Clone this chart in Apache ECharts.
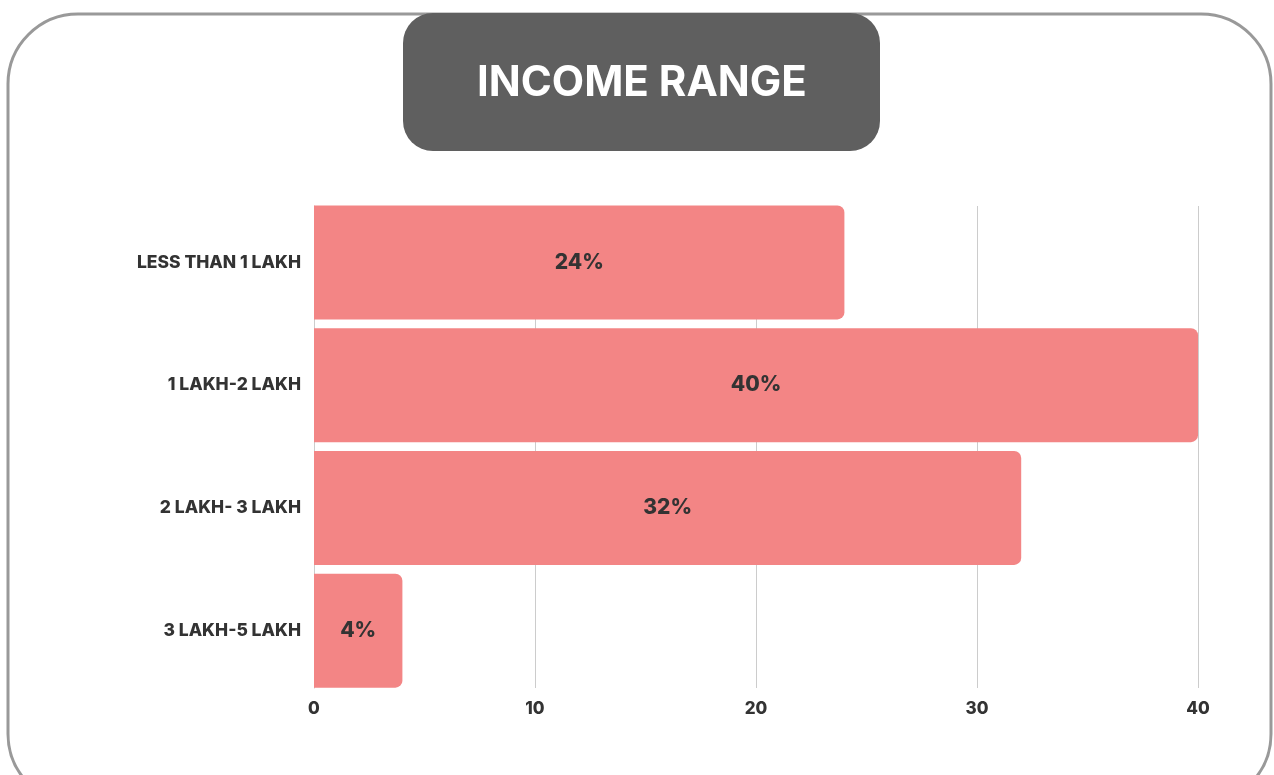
<!DOCTYPE html>
<html>
<head>
<meta charset="utf-8">
<title>Income Range</title>
<script src="https://cdn.jsdelivr.net/npm/echarts@6/dist/echarts.min.js"></script>
<style>
  html, body { margin: 0; padding: 0; background: #fff; }
  #main { width: 1274px; height: 775px; }
</style>
</head>
<body>
<div id="main"></div>
<script>
// data
var categories = ['LESS THAN 1 LAKH', '1 LAKH-2 LAKH', '2 LAKH- 3 LAKH', '3 LAKH-5 LAKH'];
var values = [24, 40, 32, 4];
var xTicks = [0, 10, 20, 30, 40];

var font = 'Inter';
var chart = echarts.init(document.getElementById('main'));

var option = {
  backgroundColor: '#fff',
  animation: false,
  title: {
    text: 'INCOME RANGE',
    left: 472,
    top: 57,
    textStyle: {
      color: '#fff',
      fontSize: 42,
      fontWeight: 'bold',
      fontFamily: font
    }
  },
  graphic: [
    { // outer frame
      type: 'rect',
      z: -10,
      shape: { x: 8, y: 14, width: 1263, height: 790, r: 70 },
      style: { fill: 'none', stroke: '#999', lineWidth: 3 }
    },
    { // header box
      type: 'rect',
      z: -5,
      shape: { x: 403, y: 13, width: 477, height: 138, r: 30 },
      style: { fill: '#5f5f5f' }
    }
  ],
  // grid 0 holds the bars (they touch top and bottom), grid 1 the lines and x labels
  grid: [
    { left: 314, right: 76, top: 201, bottom: 83 },
    { left: 314, right: 76, top: 206, bottom: 87 }
  ],
  xAxis: [{
    type: 'value',
    gridIndex: 0,
    min: xTicks[0],
    max: xTicks[xTicks.length - 1],
    interval: 10,
    show: false
  }, {
    type: 'value',
    gridIndex: 1,
    min: xTicks[0],
    max: xTicks[xTicks.length - 1],
    interval: 10,
    axisLine: { show: false },
    axisTick: { show: false },
    splitLine: { lineStyle: { color: '#cccccc', width: 1 } },
    axisLabel: {
      margin: 12,
      color: '#333',
      fontSize: 17,
      fontWeight: 800,
      fontFamily: font
    }
  }],
  yAxis: [{
    type: 'category',
    gridIndex: 0,
    data: categories,
    inverse: true,
    axisLine: { show: false },
    axisTick: { show: false },
    axisLabel: {
      margin: 13,
      color: '#333',
      fontSize: 17.5,
      fontWeight: 800,
      fontFamily: font
    }
  }, {
    type: 'category',
    gridIndex: 1,
    data: categories,
    inverse: true,
    axisLine: { show: true, lineStyle: { color: '#cccccc' } },
    axisTick: { show: false },
    axisLabel: { show: false }
  }],
  series: [{
    type: 'bar',
    xAxisIndex: 0,
    yAxisIndex: 0,
    data: values,
    barWidth: 114,
    itemStyle: { color: '#f38585', borderRadius: [0, 7, 7, 0] },
    label: {
      show: true,
      position: 'inside',
      formatter: '{c}%',
      color: '#333',
      fontSize: 21,
      fontWeight: 800,
      fontFamily: font
    }
  }]
};

chart.setOption(option);
</script>
</body>
</html>
